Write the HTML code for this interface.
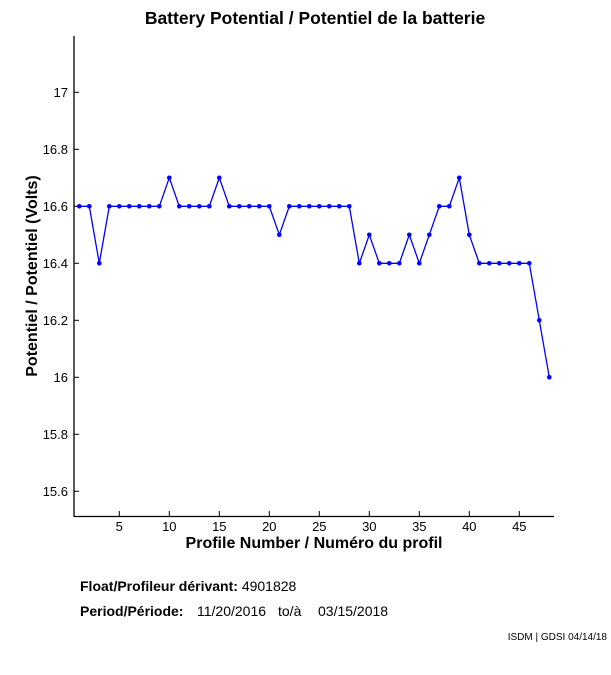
<!DOCTYPE html>
<html><head><style>body{margin:0;background:#fff}svg{display:block}</style></head><body>
<svg width="611" height="675" xmlns="http://www.w3.org/2000/svg" font-family="Liberation Sans, sans-serif">
<defs>
<marker id="m" markerUnits="userSpaceOnUse" markerWidth="6" markerHeight="6" refX="3" refY="3" viewBox="0 0 6 6"><circle cx="3" cy="3" r="2.3" fill="#0000ff"/></marker>
</defs>
<rect width="611" height="675" fill="#fff"/>
<text x="315" y="24" font-size="17.5" font-weight="bold" text-anchor="middle">Battery Potential / Potentiel de la batterie</text>
<g stroke="#000" stroke-width="1.3">
<line x1="74" y1="36" x2="74" y2="517"/>
<line x1="74" y1="516.5" x2="554" y2="516.5"/>
</g>
<g stroke="#000" stroke-width="1">
<line x1="119.3" y1="516" x2="119.3" y2="511"/>
<line x1="169.3" y1="516" x2="169.3" y2="511"/>
<line x1="219.3" y1="516" x2="219.3" y2="511"/>
<line x1="269.3" y1="516" x2="269.3" y2="511"/>
<line x1="319.3" y1="516" x2="319.3" y2="511"/>
<line x1="369.3" y1="516" x2="369.3" y2="511"/>
<line x1="419.3" y1="516" x2="419.3" y2="511"/>
<line x1="469.3" y1="516" x2="469.3" y2="511"/>
<line x1="519.3" y1="516" x2="519.3" y2="511"/>
<line x1="74" y1="491.3" x2="79" y2="491.3"/>
<line x1="74" y1="434.3" x2="79" y2="434.3"/>
<line x1="74" y1="377.3" x2="79" y2="377.3"/>
<line x1="74" y1="320.3" x2="79" y2="320.3"/>
<line x1="74" y1="263.3" x2="79" y2="263.3"/>
<line x1="74" y1="206.3" x2="79" y2="206.3"/>
<line x1="74" y1="149.3" x2="79" y2="149.3"/>
<line x1="74" y1="92.3" x2="79" y2="92.3"/>
</g>
<g font-size="13" fill="#000" text-anchor="middle">
<text x="119.3" y="531">5</text><text x="169.3" y="531">10</text><text x="219.3" y="531">15</text><text x="269.3" y="531">20</text><text x="319.3" y="531">25</text><text x="369.3" y="531">30</text><text x="419.3" y="531">35</text><text x="469.3" y="531">40</text><text x="519.3" y="531">45</text>
</g>
<g font-size="13" fill="#000" text-anchor="end">
<text x="68" y="496">15.6</text><text x="68" y="439">15.8</text><text x="68" y="382">16</text><text x="68" y="325">16.2</text><text x="68" y="268">16.4</text><text x="68" y="211">16.6</text><text x="68" y="154">16.8</text><text x="68" y="97">17</text>
</g>
<text x="314" y="548" font-size="16" font-weight="bold" text-anchor="middle">Profile Number / Numéro du profil</text>
<text transform="translate(37,276) rotate(-90)" font-size="16" font-weight="bold" text-anchor="middle">Potentiel / Potentiel (Volts)</text>
<polyline fill="none" stroke="#0000ff" stroke-width="1.3" marker-start="url(#m)" marker-mid="url(#m)" marker-end="url(#m)" points="79.3,206.3 89.3,206.3 99.3,263.3 109.3,206.3 119.3,206.3 129.3,206.3 139.3,206.3 149.3,206.3 159.3,206.3 169.3,177.8 179.3,206.3 189.3,206.3 199.3,206.3 209.3,206.3 219.3,177.8 229.3,206.3 239.3,206.3 249.3,206.3 259.3,206.3 269.3,206.3 279.3,234.8 289.3,206.3 299.3,206.3 309.3,206.3 319.3,206.3 329.3,206.3 339.3,206.3 349.3,206.3 359.3,263.3 369.3,234.8 379.3,263.3 389.3,263.3 399.3,263.3 409.3,234.8 419.3,263.3 429.3,234.8 439.3,206.3 449.3,206.3 459.3,177.8 469.3,234.8 479.3,263.3 489.3,263.3 499.3,263.3 509.3,263.3 519.3,263.3 529.3,263.3 539.3,320.3 549.3,377.3"/>
<text x="80" y="591" font-size="14" font-weight="bold">Float/Profileur dérivant: <tspan font-weight="normal">4901828</tspan></text>
<text x="80" y="616" font-size="14" font-weight="bold">Period/Période: <tspan font-weight="normal" x="197">11/20/2016</tspan><tspan font-weight="normal" x="278">to/à</tspan><tspan font-weight="normal" x="318">03/15/2018</tspan></text>
<text x="607" y="640" font-size="10" text-anchor="end">ISDM | GDSI 04/14/18</text>
</svg>
</body></html>
